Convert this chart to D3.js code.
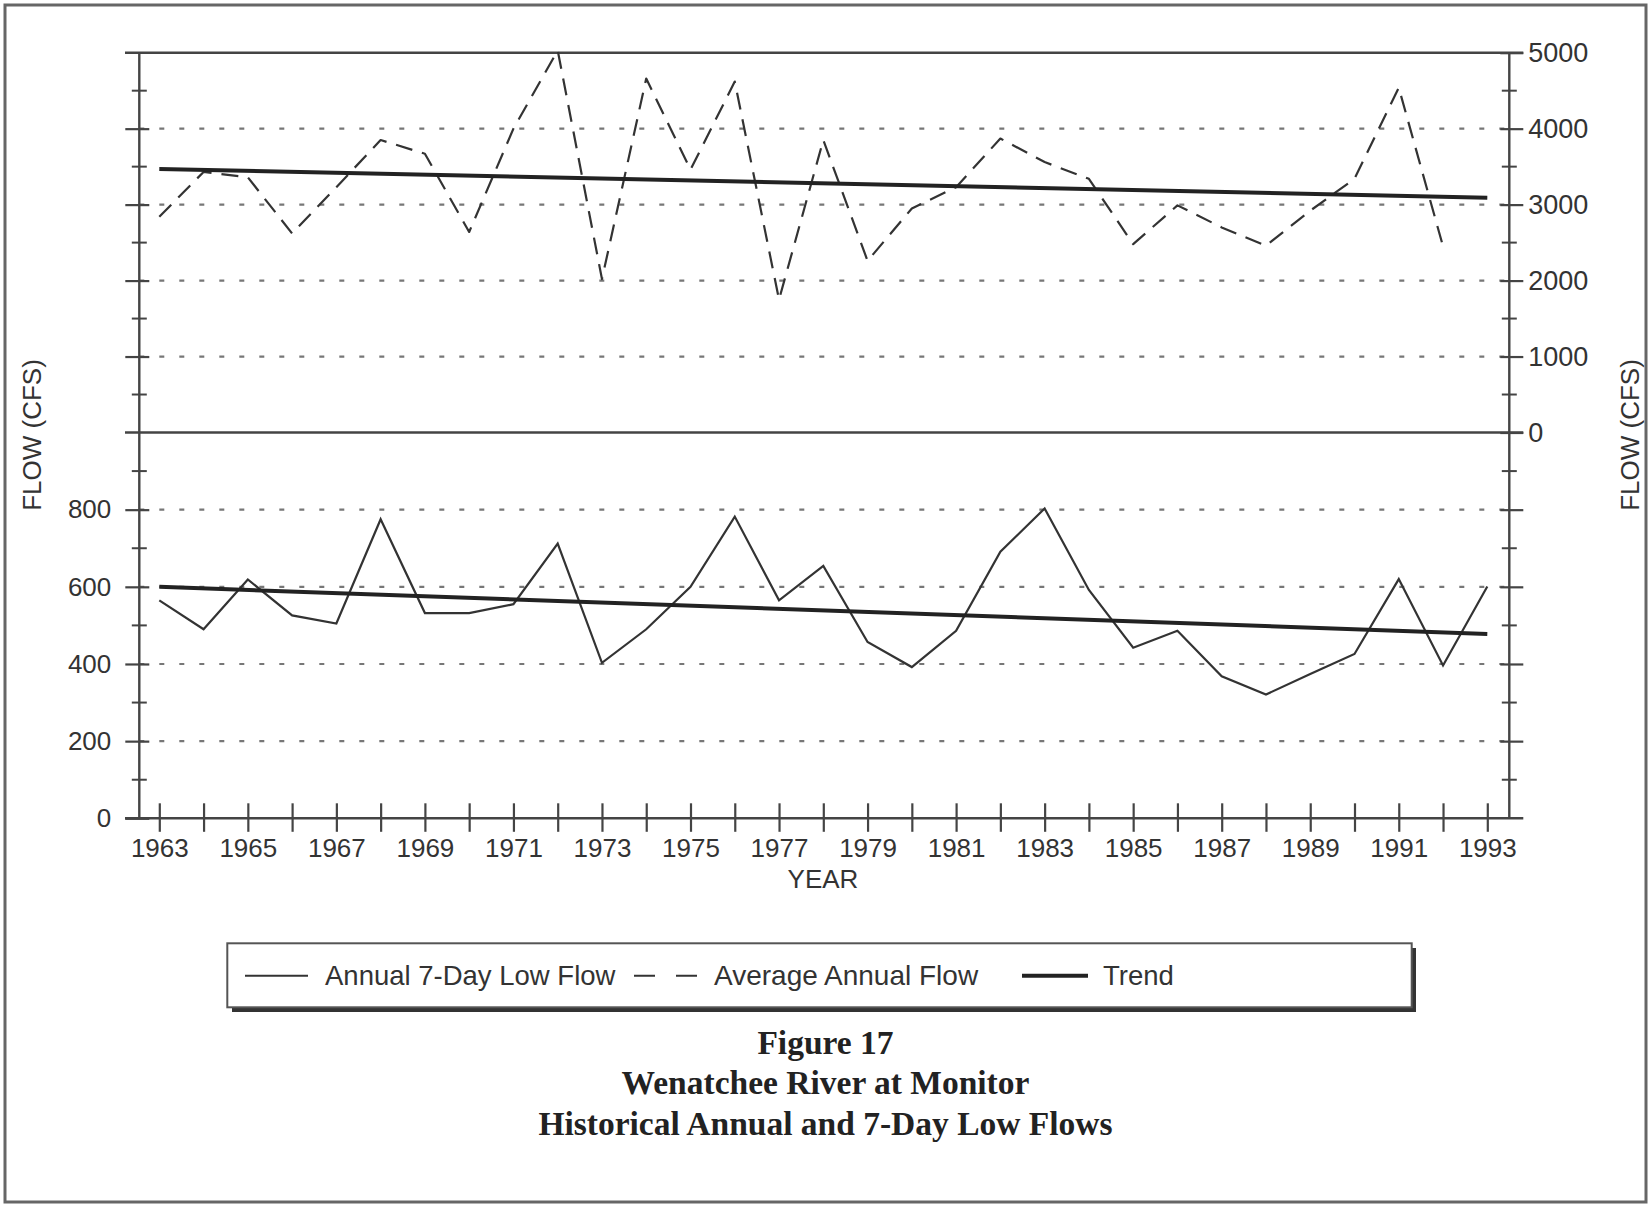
<!DOCTYPE html>
<html>
<head>
<meta charset="utf-8">
<script src="https://cdn.jsdelivr.net/npm/d3@7"></script>
<style>
  html, body { margin: 0; padding: 0; background: #ffffff; }
  svg { display: block; }
  text { font-family: "Liberation Sans", Arial, Helvetica, sans-serif; fill: #333; }
  .title { font-family: "Liberation Serif", "Times New Roman", serif; font-weight: bold; fill: #222; }
</style>
</head>
<body>
<svg id="chart" width="1652" height="1207"></svg>
<script>
// ---- data -------------------------------------------------------------
const years = [1963, 1964, 1965, 1966, 1967, 1968, 1969, 1970, 1971, 1972,
               1973, 1974, 1975, 1976, 1977, 1978, 1979, 1980, 1981, 1982,
               1983, 1984, 1985, 1986, 1987, 1988, 1989, 1990, 1991, 1992, 1993];

// Annual 7-day low flow (cfs), 1963-1993
const lowFlow7Day = [565, 490, 619, 526, 505, 775, 532, 532, 555, 712,
                     403, 490, 600, 782, 565, 654, 457, 392, 486, 691,
                     803, 592, 442, 486, 368, 321, 374, 426, 620, 396, 601];

// Average annual flow (cfs), 1963-1992
const averageAnnualFlow = [2840, 3430, 3360, 2620, 3230, 3850, 3670, 2640, 4000, 5030,
                           2020, 4660, 3460, 4620, 1750, 3850, 2260, 2950, 3230, 3870,
                           3560, 3340, 2480, 2990, 2700, 2460, 2920, 3340, 4540, 2450];

// Linear trend end points
const trendYears = [1963, 1993];
const trendAverage = [3470, 3090];
const trendLow = [600, 478];

// Axis ticks
const lowTicks = [0, 200, 400, 600, 800];
const lowGrid = [200, 400, 600, 800];
const lowMinor = [100, 300, 500, 700, 900];
const highTicks = [0, 1000, 2000, 3000, 4000, 5000];
const highGrid = [1000, 2000, 3000, 4000];
const highMinor = [500, 1500, 2500, 3500, 4500];

const legendLabels = ["Annual 7-Day Low Flow", "Average Annual Flow", "Trend"];
const titleLines = ["Figure 17", "Wenatchee River at Monitor", "Historical Annual and 7-Day Low Flows"];
const axisTitleY = "FLOW (CFS)";
const axisTitleX = "YEAR";

// ---- layout -----------------------------------------------------------
const svg = d3.select("#chart");
const axL = 139.3, axR = 1509.3;
const yTop = 52.7, yMid = 432.5, yBot = 818.3;
const lineL = 125, lineR = 1523.3;
const ink = "#333";
const plain = d3.format("d");

const x = d3.scaleLinear().domain([1963, 1993]).range([159.3, 1487.3]);
const yHigh = d3.scaleLinear().domain([0, 5000]).range([yMid, yTop]);
const yLow = d3.scaleLinear().domain([0, 1000]).range([yBot, yMid]);

// page frame
svg.append("rect").attr("x", 5).attr("y", 5).attr("width", 1641).attr("height", 1197)
  .attr("fill", "#fff").attr("stroke", "#666").attr("stroke-width", 3);

// dotted gridlines
const grid = svg.append("g").attr("stroke", "#777").attr("stroke-width", 2.2)
  .attr("stroke-dasharray", "5,15");
grid.selectAll(".gh").data(highGrid).join("line")
  .attr("x1", axL).attr("x2", axR).attr("y1", d => yHigh(d)).attr("y2", d => yHigh(d));
grid.selectAll(".gl").data(lowGrid).join("line")
  .attr("x1", axL).attr("x2", axR).attr("y1", d => yLow(d)).attr("y2", d => yLow(d));

// solid frame lines: 5000 cfs, the shared zero line, and the year axis
const frame = svg.append("g").attr("stroke", "#444").attr("stroke-width", 2.4);
[yHigh(5000), yHigh(0), yLow(0)].forEach(yy => {
  frame.append("line").attr("x1", lineL).attr("x2", lineR).attr("y1", yy).attr("y2", yy);
});
frame.append("line").attr("x1", axL).attr("x2", axL).attr("y1", yTop).attr("y2", yBot);
frame.append("line").attr("x1", axR).attr("x2", axR).attr("y1", yTop).attr("y2", yBot);

function styleAxis(g, inner, outer) {
  g.select(".domain").remove();
  g.selectAll(".tick line").attr("stroke", "#444").attr("stroke-width", 2.2)
    .attr("x1", inner).attr("x2", outer);
  g.selectAll(".tick text").attr("font-size", 26).attr("fill", ink)
    .attr("font-family", "\"Liberation Sans\", Arial, sans-serif");
}

// left axis: labelled low-flow scale and unlabelled upper scale
const gLeftLow = svg.append("g").attr("transform", `translate(${axL},0)`)
  .call(d3.axisLeft(yLow).tickValues(lowTicks).tickSize(14).tickPadding(14).tickFormat(plain));
styleAxis(gLeftLow, 10, -14);
const gLeftHigh = svg.append("g").attr("transform", `translate(${axL},0)`)
  .call(d3.axisLeft(yHigh).tickValues(highGrid).tickSize(14).tickFormat(""));
styleAxis(gLeftHigh, 10, -14);

// right axis: labelled annual-flow scale and unlabelled lower scale
const gRightHigh = svg.append("g").attr("transform", `translate(${axR},0)`)
  .call(d3.axisRight(yHigh).tickValues(highTicks).tickSize(14).tickPadding(5).tickFormat(plain));
styleAxis(gRightHigh, -9, 14);
gRightHigh.selectAll(".tick text").attr("font-size", 27);
const gRightLow = svg.append("g").attr("transform", `translate(${axR},0)`)
  .call(d3.axisRight(yLow).tickValues(lowGrid).tickSize(14).tickFormat(""));
styleAxis(gRightLow, -9, 14);

// minor ticks on both vertical axes
const minor = svg.append("g").attr("stroke", "#444").attr("stroke-width", 2);
[axL, axR].forEach(ax => {
  minor.selectAll(null).data(highMinor.map(v => yHigh(v)).concat(lowMinor.map(v => yLow(v))))
    .join("line").attr("x1", ax - 7.5).attr("x2", ax + 7.5)
    .attr("y1", d => d).attr("y2", d => d);
});

// year axis
const gBottom = svg.append("g").attr("transform", `translate(0,${yBot})`)
  .call(d3.axisBottom(x).tickValues(years).tickSize(13.5).tickPadding(6.7)
    .tickFormat(d => (d % 2 === 1 ? String(d) : "")));
gBottom.select(".domain").remove();
gBottom.selectAll(".tick line").attr("stroke", "#444").attr("stroke-width", 2.2).attr("y1", -15);
gBottom.selectAll(".tick text").attr("font-size", 26).attr("fill", ink)
  .attr("font-family", "\"Liberation Sans\", Arial, sans-serif");

// axis titles
svg.append("text").attr("transform", "translate(41,435) rotate(-90)")
  .attr("text-anchor", "middle").attr("font-size", 26).text(axisTitleY);
svg.append("text").attr("transform", "translate(1639,435) rotate(-90)")
  .attr("text-anchor", "middle").attr("font-size", 26).text(axisTitleY);
svg.append("text").attr("x", 823).attr("y", 888)
  .attr("text-anchor", "middle").attr("font-size", 26).text(axisTitleX);

// ---- series -----------------------------------------------------------
const lowLine = d3.line().x((d, i) => x(years[i])).y(d => yLow(d));
const highLine = d3.line().x((d, i) => x(years[i])).y(d => yHigh(d));

svg.append("path").datum(averageAnnualFlow).attr("d", highLine)
  .attr("fill", "none").attr("stroke", "#333").attr("stroke-width", 2.2)
  .attr("stroke-dasharray", "17,10").attr("stroke-linejoin", "round");

svg.append("path").datum(lowFlow7Day).attr("d", lowLine)
  .attr("fill", "none").attr("stroke", "#333").attr("stroke-width", 2.2)
  .attr("stroke-linejoin", "miter");

const trendHigh = d3.line().x((d, i) => x(trendYears[i])).y(d => yHigh(d));
const trendLowLine = d3.line().x((d, i) => x(trendYears[i])).y(d => yLow(d));
svg.append("path").datum(trendAverage).attr("d", trendHigh)
  .attr("fill", "none").attr("stroke", "#222").attr("stroke-width", 4);
svg.append("path").datum(trendLow).attr("d", trendLowLine)
  .attr("fill", "none").attr("stroke", "#222").attr("stroke-width", 4);

// ---- legend -----------------------------------------------------------
const lg = svg.append("g");
lg.append("rect").attr("x", 232).attr("y", 948).attr("width", 1184).attr("height", 64)
  .attr("fill", "#333");
lg.append("rect").attr("x", 227.3).attr("y", 943.3).attr("width", 1184.4).attr("height", 64)
  .attr("fill", "#fff").attr("stroke", "#555").attr("stroke-width", 2);

const ly = 975.7, lBase = 985;
lg.append("line").attr("x1", 245).attr("x2", 308).attr("y1", ly).attr("y2", ly)
  .attr("stroke", "#333").attr("stroke-width", 2);
lg.append("text").attr("x", 325).attr("y", lBase).attr("font-size", 27.5).text(legendLabels[0]);
lg.append("line").attr("x1", 634).attr("x2", 697).attr("y1", ly).attr("y2", ly)
  .attr("stroke", "#333").attr("stroke-width", 2).attr("stroke-dasharray", "21,21");
lg.append("text").attr("x", 714).attr("y", lBase).attr("font-size", 28).text(legendLabels[1]);
lg.append("line").attr("x1", 1022).attr("x2", 1088).attr("y1", ly).attr("y2", ly)
  .attr("stroke", "#222").attr("stroke-width", 4);
lg.append("text").attr("x", 1103).attr("y", lBase).attr("font-size", 27.5).text(legendLabels[2]);

// ---- caption ----------------------------------------------------------
const captionBase = [1053.6, 1093.6, 1134.7];
svg.selectAll(".title").data(titleLines).join("text")
  .attr("class", "title").attr("x", 825.5).attr("y", (d, i) => captionBase[i])
  .attr("text-anchor", "middle").attr("font-size", 33.5).text(d => d);
</script>
</body>
</html>
